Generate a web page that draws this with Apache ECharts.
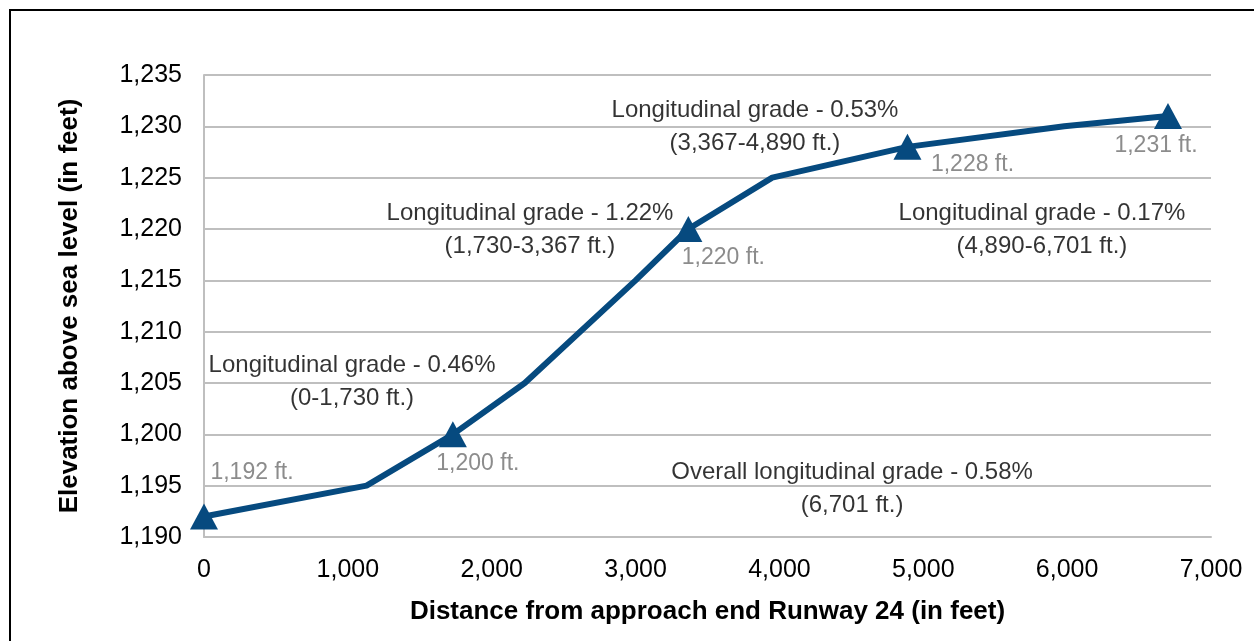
<!DOCTYPE html>
<html>
<head>
<meta charset="utf-8">
<script src="https://cdn.jsdelivr.net/npm/echarts@6/dist/echarts.min.js"></script>
<style>
  html, body { margin: 0; padding: 0; background: #fff; }
  #chart { width: 1254px; height: 641px; }
</style>
</head>
<body>
<div id="chart"></div>
<script>
// runway profile (distance in ft, elevation in ft)
var profileDist = [0, 1130, 1730, 2230, 3000, 3367, 3950, 4890, 5980, 6701]
var profileElev = [1192, 1195, 1200, 1205, 1215, 1220, 1225, 1228, 1230, 1231]

// marked points
var markerDist = [0, 1730, 3367, 4890, 6701]
var markerElev = [1192, 1200, 1220, 1228, 1231]

// grade notes
var noteDist = [1029, 2266, 3830, 5825, 4505]
var noteElev = [1205.1, 1219.9, 1229.9, 1219.9, 1194.7]
var noteText = [
  'Longitudinal grade - 0.46%\n(0-1,730 ft.)',
  'Longitudinal grade - 1.22%\n(1,730-3,367 ft.)',
  'Longitudinal grade - 0.53%\n(3,367-4,890 ft.)',
  'Longitudinal grade - 0.17%\n(4,890-6,701 ft.)',
  'Overall longitudinal grade - 0.58%\n(6,701 ft.)'
]

var xTitle = 'Distance from approach end Runway 24 (in feet)'
var yTitle = 'Elevation above sea level (in feet)'

function fmt (v) {
  return String(v).replace(/\B(?=(\d{3})+(?!\d))/g, ',')
}

var chart = echarts.init(document.getElementById('chart'))

// where each gray value label sits relative to its marker
var labelOffsets = [[48, -44], [25, 29], [35, 29], [65, 18], [-12, 30]]

var FONT = 'Liberation Sans, Arial, sans-serif'

chart.setOption({
  animation: false,
  textStyle: { fontFamily: FONT },
  graphic: [{
    type: 'rect',
    shape: { x: 10, y: 10, width: 1270, height: 660 },
    style: { fill: null, stroke: '#000', lineWidth: 2 },
    silent: true
  }],
  grid: { left: 204, right: 43, top: 75, bottom: 104 },
  xAxis: {
    type: 'value',
    min: 0,
    max: 7000,
    interval: 1000,
    name: xTitle,
    nameLocation: 'middle',
    nameGap: 62,
    nameTextStyle: { fontSize: 26, fontWeight: 'bold', color: '#000', fontFamily: FONT },
    axisLine: { lineStyle: { color: '#bfbfbf', width: 2 } },
    axisTick: { show: false },
    axisLabel: { fontSize: 25, color: '#000', margin: 21, formatter: fmt },
    splitLine: { show: false }
  },
  yAxis: {
    type: 'value',
    min: 1190,
    max: 1235,
    interval: 5,
    name: yTitle,
    nameLocation: 'middle',
    nameGap: 121,
    nameTextStyle: { fontSize: 26, fontWeight: 'bold', color: '#000', fontFamily: FONT },
    axisLine: { show: true, lineStyle: { color: '#bfbfbf', width: 2 } },
    axisTick: { show: false },
    axisLabel: { fontSize: 25, color: '#000', margin: 22, formatter: fmt },
    splitLine: { lineStyle: { color: '#bfbfbf', width: 2 } }
  },
  series: [
    {
      type: 'line',
      data: profileDist.map(function (d, i) { return [d, profileElev[i]] }),
      symbol: 'none',
      lineStyle: { color: '#064a7f', width: 6 },
      z: 3
    },
    {
      type: 'scatter',
      data: markerDist.map(function (d, i) {
        return {
          value: [d, markerElev[i]],
          label: { offset: labelOffsets[i] }
        }
      }),
      symbol: 'triangle',
      symbolSize: [28, 26],
      itemStyle: { color: '#064a7f', opacity: 1 },
      label: {
        show: true,
        position: 'inside',
        color: '#8c8c8c',
        fontSize: 23,
        fontFamily: FONT,
        formatter: function (p) { return fmt(p.value[1]) + ' ft.' }
      },
      z: 4
    },
    {
      type: 'scatter',
      data: noteDist.map(function (d, i) { return { value: [d, noteElev[i]], name: noteText[i] } }),
      symbolSize: 0,
      silent: true,
      label: {
        show: true,
        position: 'inside',
        color: '#000',
        fontSize: 24,
        lineHeight: 33,
        align: 'center',
        fontFamily: FONT,
        formatter: function (p) { return p.name }
      },
      z: 5
    }
  ]
})
</script>
</body>
</html>
